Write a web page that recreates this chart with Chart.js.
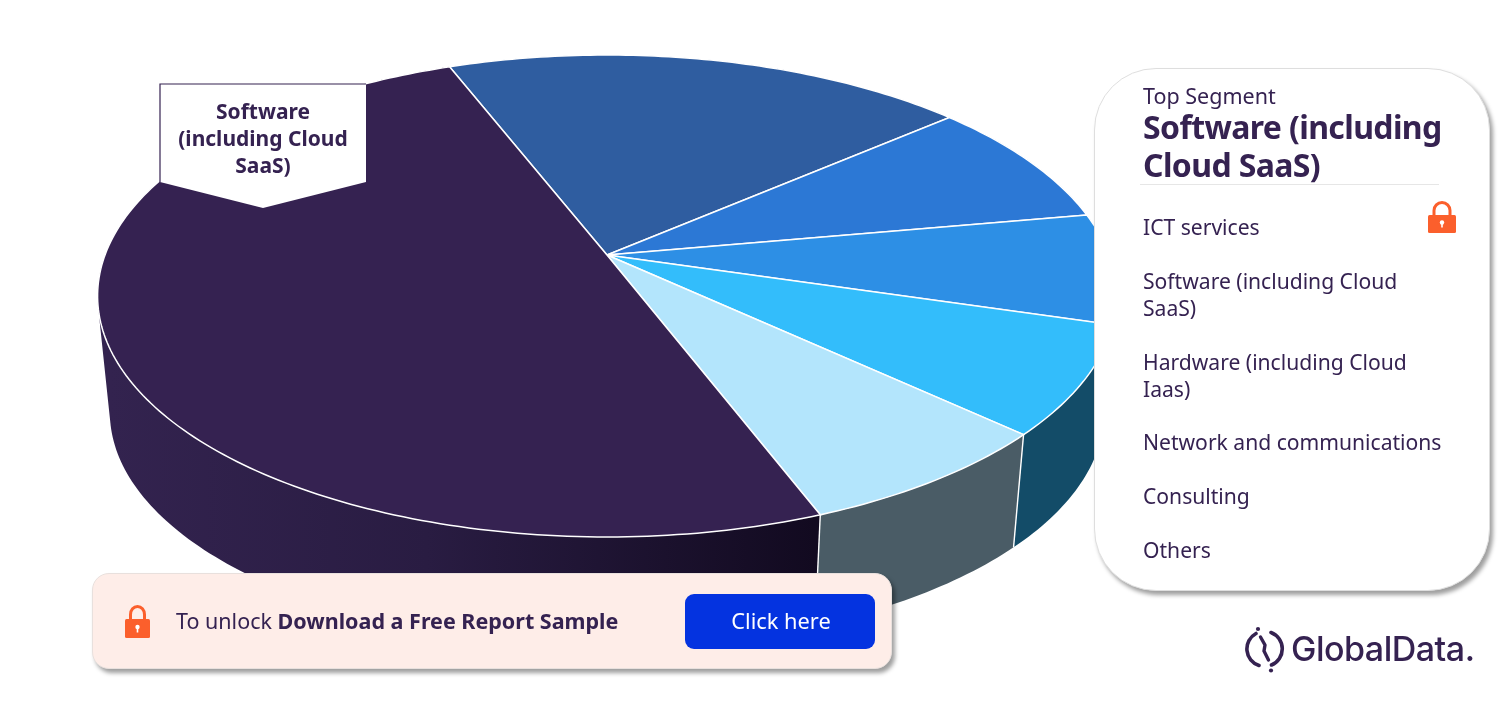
<!DOCTYPE html>
<html>
<head>
<meta charset="utf-8">
<title>Top Segment</title>
<script src="https://cdn.jsdelivr.net/npm/chart.js@4"></script>
<style>
    html, body { margin: 0; padding: 0; background: #fff; }
    body { width: 1500px; height: 723px; overflow: hidden; position: relative; font-family: "Noto Sans", sans-serif; color: #352251; }
    canvas { position: absolute; left: 0; top: 0; }
    .t { position: absolute; white-space: nowrap; line-height: 1; }
    #panel { position: absolute; left: 1094px; top: 68px; width: 396px; height: 523px; background: #fff; border: 1px solid #dedede; border-radius: 62px; box-sizing: border-box; box-shadow: 3px 4px 4px rgba(0,0,0,.38); }
    #banner { position: absolute; left: 92px; top: 573px; width: 800px; height: 96px; background: #feede8; border-radius: 17px; border: 1px solid #e8e0dd; box-sizing: border-box; box-shadow: 3px 4px 4px rgba(0,0,0,.38); }
    #btn { position: absolute; left: 685px; top: 594px; width: 190px; height: 55px; background: #0433e0; border-radius: 9px; }
    svg { position: absolute; overflow: visible; }
    .leg { font-size: 21.1px; color: #352251; }
</style>
</head>
<body>
<canvas id="pie" width="1500" height="723"></canvas>

<svg style="left:0;top:0" width="1500" height="723">
    <polygon points="160,84 366,84 366,182 263,208 160,182" fill="#fff"/>
    <polyline points="160,182 160,84 366,84" fill="none" stroke="#352251" stroke-width="1.2"/>
</svg>
<div class="t" style="left:163px;width:200px;text-align:center;top:101px;font-size:21px;font-weight:700">Software</div>
<div class="t" style="left:163px;width:200px;text-align:center;top:128px;font-size:21px;font-weight:700">(including Cloud</div>
<div class="t" style="left:163px;width:200px;text-align:center;top:155px;font-size:21px;font-weight:700">SaaS)</div>

<div id="panel"></div>
<div class="t" style="left:1143px;top:85px;font-size:21.5px">Top Segment</div>
<div class="t" style="left:1143px;top:111px;font-size:32px;font-weight:700;letter-spacing:-.62px">Software (including</div>
<div class="t" style="left:1143px;top:149px;font-size:32px;font-weight:700;letter-spacing:-.62px">Cloud SaaS)</div>
<svg style="left:0;top:0" width="1500" height="723"><line x1="1140" y1="184.5" x2="1439" y2="184.5" stroke="#e6e6e6"/></svg>
<div id="legend"></div>

<svg style="left:1428px;top:201px" width="28" height="32" viewBox="0 0 28 32">
    <path d="M6 15 V9.5 a8 8 0 0 1 16 0 V15" fill="none" stroke="#fb5f2c" stroke-width="3"/>
    <rect x="0" y="14" width="28" height="18" rx="1.5" fill="#fb5f2c"/>
    <circle cx="14" cy="21.5" r="2.2" fill="#fff"/><rect x="13.2" y="22" width="1.6" height="4.5" fill="#fff"/>
</svg>

<div id="banner"></div>
<svg style="left:125px;top:605px" width="25" height="33" viewBox="0 0 25 33">
    <path d="M5.5 15 V9.5 a7 8 0 0 1 14 0 V15" fill="none" stroke="#fb5f2c" stroke-width="3"/>
    <rect x="0" y="14" width="25" height="19" rx="1.5" fill="#fb5f2c"/>
    <circle cx="12.5" cy="22" r="2.2" fill="#fff"/><rect x="11.7" y="22.5" width="1.6" height="5" fill="#fff"/>
</svg>
<div class="t" style="left:176px;top:610px;font-size:21.5px">To unlock <b>Download a Free Report Sample</b></div>
<div id="btn"></div>
<div class="t" style="left:686px;width:190px;text-align:center;top:610px;font-size:21.8px;color:#fff">Click here</div>

<svg style="left:1240px;top:624px" width="50" height="50" viewBox="0 0 50 50">
    <path d="M16 9.5 A17.5 17.5 0 0 0 19 41.5 M31 8.5 A17.5 17.5 0 0 1 31.5 41" fill="none" stroke="#352251" stroke-width="3.6" stroke-linecap="round"/>
    <path d="M20.5 13 L25 21 M25 21 L24 27 L28.5 36" fill="none" stroke="#352251" stroke-width="3.4" stroke-linecap="round"/>
    <circle cx="18" cy="5" r="2.1" fill="#352251"/><circle cx="31" cy="46.5" r="2.1" fill="#352251"/>
</svg>
<div class="t" style="left:1291px;top:632px;font-family:Inter,sans-serif;font-size:34px;font-weight:500;letter-spacing:-.5px">GlobalData.</div>

<script>
// pie order, clockwise from the back edge of the dark blue slice
const segments = ['ICT services', 'Hardware (including Cloud Iaas)', 'Network and communications', 'Consulting', 'Others', 'Software (including Cloud SaaS)'];
const shares = [19.6, 8.5, 7.4, 7.3, 7.3, 49.9];
const topColors = ['#2f5da0', '#2c78d5', '#2d8fe5', '#33bdfb', '#b3e5fc', '#352251'];
const sideColors = ['#1f3f6e', '#1c4f8e', '#1c5f98', '#134c68', '#4a5c66', '#352251'];
const legendLines = [
    ['ICT services', 216], ['Software (including Cloud', 270], ['SaaS)', 297],
    ['Hardware (including Cloud', 351], ['Iaas)', 378], ['Network and communications', 431],
    ['Consulting', 485], ['Others', 539]
];

legendLines.forEach(function (l) {
    const d = document.createElement('div');
    d.className = 't leg';
    d.style.left = '1143px';
    d.style.top = l[1] + 'px';
    d.textContent = l[0];
    document.getElementById('legend').appendChild(d);
});

// tilted disc: where the flat circle lands on the page
const apexX = 607, apexY = 255, radX = 502, radY = 234, tilt = 0.17;
const wallDrop = 117, wallScale = 0.976;

function rim(angle, low) {
    const u = Math.cos(angle), v = Math.sin(angle), w = 1 - tilt * v;
    let x = radX * u / w, y = radY * v / w;
    if (low) {
        x *= wallScale; y = y * wallScale + wallDrop;
    }
    return [apexX + x, apexY + y];
}

function arcPoints(a0, a1, low) {
    const n = Math.max(2, Math.ceil(Math.abs(a1 - a0) * 60));
    const pts = [];
    for (let i = 0; i <= n; i++) pts.push(rim(a0 + (a1 - a0) * i / n, low));
    return pts;
}

// all quads wound the same way in one path, so the wall folds without holes or seams
function addQuad(ctx, q) {
    let area = 0;
    q.forEach(function (p, i) {
        const n = q[(i + 1) % 4];
        area += p[0] * n[1] - n[0] * p[1];
    });
    const pts = area < 0 ? q.slice().reverse() : q;
    pts.forEach(function (p, i) { i ? ctx.lineTo(p[0], p[1]) : ctx.moveTo(p[0], p[1]); });
    ctx.closePath();
}

const tiltedPie = {
    id: 'tiltedPie',
    beforeDatasetDraw(chart, args) {
        const ctx = chart.ctx;
        const arcs = args.meta.data;

        // side wall first, the top covers whatever is behind it
        arcs.forEach(function (arc, i) {
            const upper = arcPoints(arc.startAngle, arc.endAngle, false);
            const lower = arcPoints(arc.startAngle, arc.endAngle, true);
            let fill = sideColors[i];
            if (segments[i].startsWith('Software')) {
                fill = ctx.createLinearGradient(110, 0, 815, 0);
                fill.addColorStop(0, '#33234f');
                fill.addColorStop(0.45, '#291c42');
                fill.addColorStop(1, '#120a20');
            }
            ctx.beginPath();
            for (let k = 0; k < upper.length - 1; k++) {
                addQuad(ctx, [upper[k], upper[k + 1], lower[k + 1], lower[k]]);
            }
            ctx.fillStyle = fill;
            ctx.fill();
        });
        arcs.forEach(function (arc) {
            const a = rim(arc.startAngle, false), b = rim(arc.startAngle, true);
            ctx.beginPath();
            ctx.moveTo(a[0], a[1]);
            ctx.lineTo(b[0], b[1]);
            ctx.strokeStyle = '#fff';
            ctx.lineWidth = 1.4;
            ctx.stroke();
        });

        arcs.forEach(function (arc) {
            ctx.beginPath();
            ctx.moveTo(apexX, apexY);
            arcPoints(arc.startAngle, arc.endAngle, false).forEach(function (p) { ctx.lineTo(p[0], p[1]); });
            ctx.closePath();
            ctx.fillStyle = arc.options.backgroundColor;
            ctx.fill();
            ctx.strokeStyle = '#fff';
            ctx.lineWidth = 1.5;
            ctx.stroke();
        });
        return false;
    }
};

new Chart(document.getElementById('pie'), {
    type: 'pie',
    data: {
        labels: segments,
        datasets: [{ data: shares, backgroundColor: topColors, borderWidth: 0 }]
    },
    options: {
        responsive: false,
        animation: false,
        rotation: -21.3,
        events: [],
        plugins: { legend: { display: false }, tooltip: { enabled: false } }
    },
    plugins: [tiltedPie]
});
</script>
</body>
</html>
